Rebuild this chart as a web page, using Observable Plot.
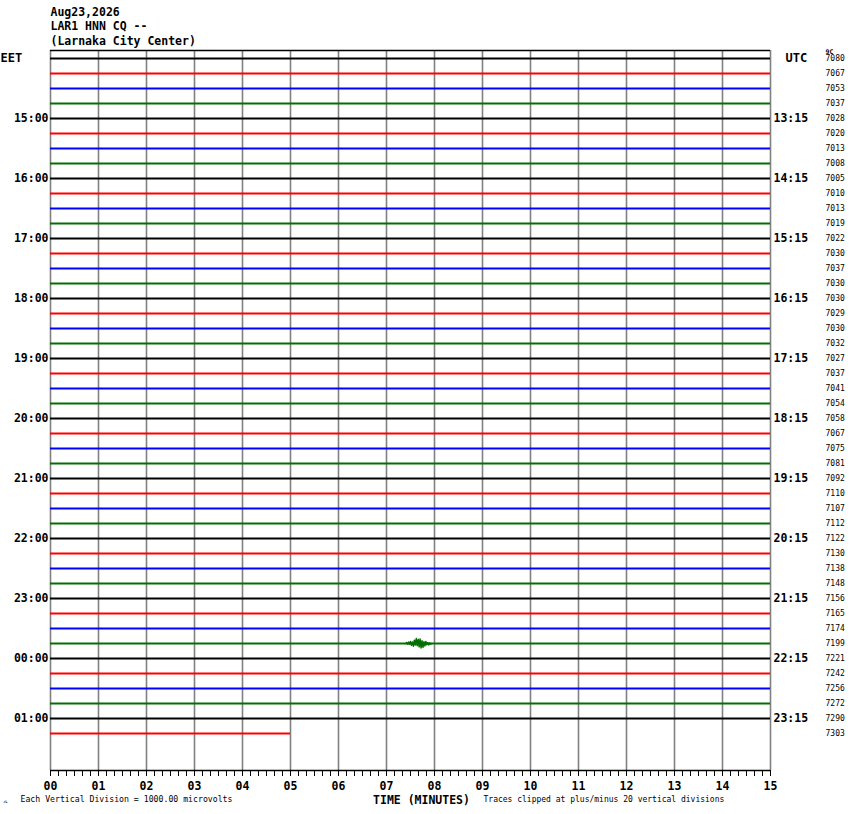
<!DOCTYPE html>
<html><head><meta charset="utf-8">
<script src="https://cdn.jsdelivr.net/npm/d3@7"></script>
<script src="https://cdn.jsdelivr.net/npm/@observablehq/plot@0.6"></script>
<style>body{margin:0;background:#fff}#chart svg{display:block}</style>
</head><body><div id="chart"></div>
<script>
// ---- data ----
const titleLines = ["Aug23,2026", "LAR1 HNN CQ --", "(Larnaka City Center)"];
const rowValues = [7080, 7067, 7053, 7037, 7028, 7020, 7013, 7008, 7005, 7010, 7013, 7019,
  7022, 7030, 7037, 7030, 7030, 7029, 7030, 7032, 7027, 7037, 7041, 7054,
  7058, 7067, 7075, 7081, 7092, 7110, 7107, 7112, 7122, 7130, 7138, 7148,
  7156, 7165, 7174, 7199, 7221, 7242, 7256, 7272, 7290, 7303];
const traceColors = ["#000000", "#ff0000", "#0000ff", "#007000"];
const hourLabelsEET = ["15:00","16:00","17:00","18:00","19:00","20:00","21:00","22:00","23:00","00:00","01:00"];
const hourLabelsUTC = ["13:15","14:15","15:15","16:15","17:15","18:15","19:15","20:15","21:15","22:15","23:15"];
const minuteTicks = d3.range(0, 16);
const minorTicks = d3.range(0, 91).map(i => i / 6);
const lastRowEnd = 5; // minutes recorded in the final (partial) line
// small local event on the 23:45 EET (green) line
const eventRow = 39;
const eventMinutes = [7.40,7.42,7.44,7.46,7.48,7.50,7.52,7.54,7.56,7.58,7.60,7.62,7.64,7.66,7.68,7.70,7.72,7.74,7.76,7.78,7.80,7.82,7.84,7.86,7.88,7.90,7.92,7.94];
const eventOffsets = [0,0.06,-0.04,0.1,-0.05,0.14,-0.12,0.1,-0.18,0.22,-0.1,0.33,-0.15,0.28,-0.22,0.3,-0.3,0.18,-0.25,0.12,-0.16,0.14,-0.08,0.06,-0.1,0.04,-0.03,0];

// ---- derived tables ----
const rows = rowValues.map((v, i) => ({
  row: i, value: String(v), color: traceColors[i % 4],
  end: i === rowValues.length - 1 ? lastRowEnd : 15
}));
const hourRows = hourLabelsEET.map((_, i) => (i + 1) * 4);
const eet = new Map(hourRows.map((r, i) => [r, hourLabelsEET[i]]));
const utc = new Map(hourRows.map((r, i) => [r, hourLabelsUTC[i]]));
const eventData = eventMinutes.map((t, i) => ({t, y: eventRow - eventOffsets[i]}));

const yTop = -0.5333, yBottom = 47.4667;
const mono = "DejaVu Sans Mono";

const chart = Plot.plot({
  width: 850, height: 814,
  marginLeft: 50, marginRight: 80, marginTop: 50, marginBottom: 44,
  x: {domain: [0, 15]},
  y: {domain: [yBottom, yTop]},
  style: {fontFamily: mono, background: "white", color: "black"},
  marks: [
    Plot.ruleX(minuteTicks, {stroke: "#808080", strokeWidth: 1.6}),
    Plot.ruleY([yTop], {stroke: "black", strokeWidth: 1.5}),
    Plot.ruleY([yBottom], {stroke: "black", strokeWidth: 1.5}),
    Plot.ruleY(rows, {y: "row", x1: d => 0, x2: "end", stroke: "color", strokeWidth: 2}),
    Plot.line(eventData, {x: "t", y: "y", stroke: traceColors[3], strokeWidth: 1.5}),
    Plot.axisX({ticks: minorTicks, tickSize: 6, tickFormat: () => "", label: null, stroke: "black"}),
    Plot.axisX({ticks: minuteTicks, tickSize: 0, tickPadding: 11, tickFormat: d3.format("02d"),
      label: null, fontSize: 11.5, fontWeight: "bold", fill: "black"}),
    Plot.axisY({ticks: hourRows, anchor: "left", tickSize: 0, tickPadding: 2,
      tickFormat: r => eet.get(r), label: null, fontSize: 11.5, fontWeight: "bold", fill: "black"}),
    Plot.axisY({ticks: hourRows, anchor: "right", tickSize: 0, tickPadding: 3,
      tickFormat: r => utc.get(r), label: null, fontSize: 11.5, fontWeight: "bold", fill: "black"}),
    Plot.text(["EET"], {x: 0, y: 0, dx: -50, textAnchor: "start", fontSize: 12, fontWeight: "bold"}),
    Plot.text(["UTC"], {x: 15, y: 0, dx: 15, textAnchor: "start", fontSize: 12, fontWeight: "bold"}),
    Plot.text(rows, {x: 15, y: "row", text: "value", dx: 55, textAnchor: "start", fontSize: 8}),
    Plot.text(["9C"], {x: 15, y: 0, dx: 55, dy: -7, textAnchor: "start", fontSize: 6.5, fontWeight: "bold"}),
    ...titleLines.map((t, i) => Plot.text([t], {frameAnchor: "top-left", dx: 0, dy: -38 + i * 14.3,
      textAnchor: "start", lineAnchor: "middle", fontSize: 11.5, fontWeight: "bold"})),
    Plot.text(["TIME (MINUTES)"], {frameAnchor: "bottom", dx: 11, dy: 33, fontSize: 11.5, fontWeight: "bold"}),
    Plot.text(["Each Vertical Division = 1000.00 microvolts"], {frameAnchor: "bottom-left", dx: -30, dy: 31, textAnchor: "start", fontSize: 8.2}),
    Plot.text(["Traces clipped at plus/minus 20 vertical divisions"], {frameAnchor: "bottom-left", dx: 433, dy: 31, textAnchor: "start", fontSize: 8}),
    Plot.text(["ᴊʟ"], {frameAnchor: "bottom-left", dx: -47, dy: 32, textAnchor: "start", fontSize: 5})
  ]
});
document.getElementById("chart").append(chart);
</script>
</body></html>
